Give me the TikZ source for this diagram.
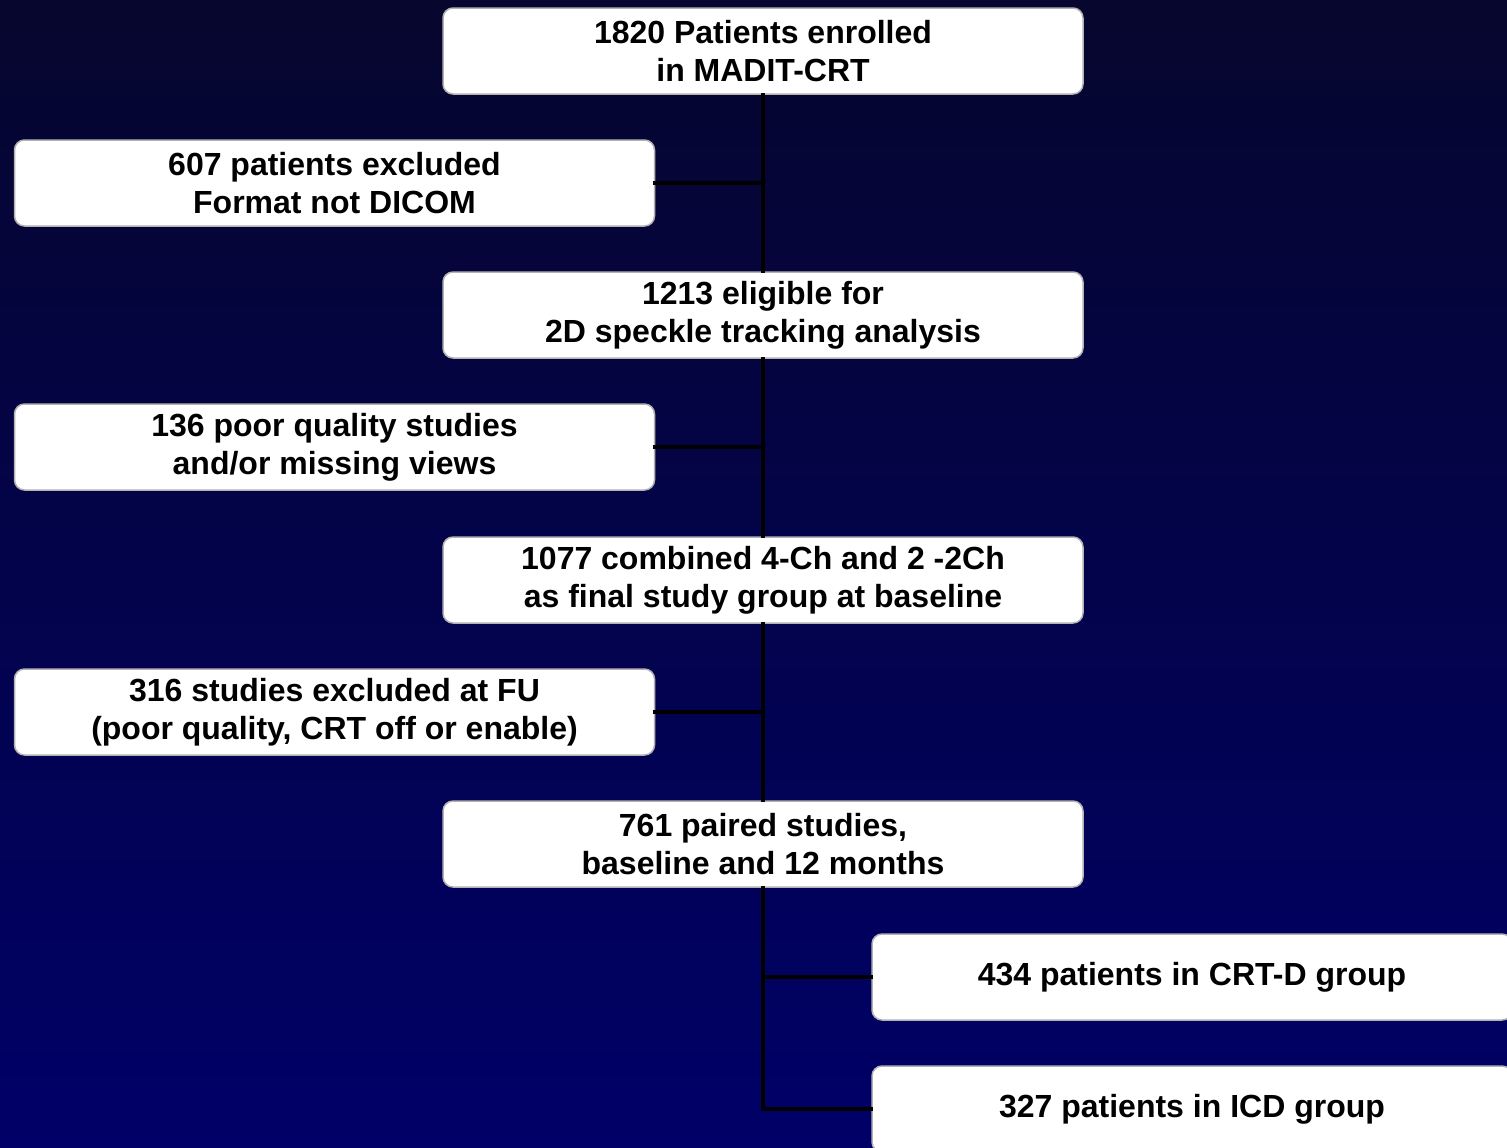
\documentclass[tikz,border=0pt]{standalone}
\usepackage{fontspec}
\setmainfont{Liberation Sans}
\usetikzlibrary{positioning}

\definecolor{bgtop}{RGB}{6,6,46}
\definecolor{bgbot}{RGB}{0,0,104}

\tikzset{
  stagebox/.style={draw=gray!60, line width=0.75pt, fill=white, rounded corners=5pt,
    minimum width=320pt, minimum height=43pt, inner sep=0pt, align=center,
    font=\fontsize{16}{19}\selectfont\bfseries},
  trunk/.style={line width=2pt, draw=black}
}

\begin{document}
\begin{tikzpicture}[x=0.5pt,y=-0.5pt,line cap=rect]

% background
\useasboundingbox (0,0) rectangle (1507,1147);
\shade[top color=bgtop,bottom color=bgbot] (0,0) rectangle (1507,1147);

% main column
\node[stagebox] (enrolled) at (763,51) {1820 Patients enrolled\\in MADIT-CRT};
\node[stagebox] (eligible) at (763,315) {1213 eligible for\\2D speckle tracking analysis};
\node[stagebox] (baseline) at (763,580) {1077 combined 4-Ch and 2 -2Ch\\as final study group at baseline};
\node[stagebox] (paired) at (763,844) {761 paired studies,\\baseline and 12 months};

% exclusions
\node[stagebox] (dicom) at (334.5,183) {607 patients excluded\\Format not DICOM};
\node[stagebox] (quality) at (334.5,447) {136 poor quality studies\\and/or missing views};
\node[stagebox] (fu) at (334.5,712) {316 studies excluded at FU\\(poor quality, CRT off or enable)};

% groups
\node[stagebox] (crtd) at (1192,977) {434 patients in CRT-D group};
\node[stagebox] (icd) at (1192,1109) {327 patients in ICD group};

% connectors
\draw[trunk] (enrolled) -- (eligible);
\draw[trunk] (eligible) -- (baseline);
\draw[trunk] (baseline) -- (paired);
\draw[trunk] (dicom.east) -- (dicom.east -| enrolled.south);
\draw[trunk] (quality.east) -- (quality.east -| eligible.south);
\draw[trunk] (fu.east) -- (fu.east -| baseline.south);
\draw[trunk] (paired.south) |- (crtd.west);
\draw[trunk] (paired.south) |- (icd.west);

\end{tikzpicture}
\end{document}
